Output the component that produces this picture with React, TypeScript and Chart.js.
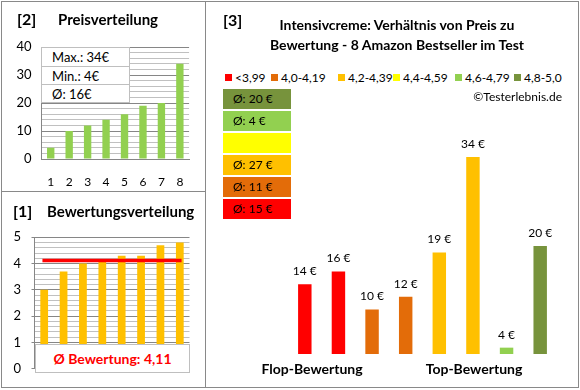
import React, { useEffect, useRef } from "react";
import { Chart, registerables } from "chart.js";

Chart.register(...registerables);

const FONT = "Lato, 'Noto Sans', sans-serif";

// ---------- data ----------
const rankLabels = ["1", "2", "3", "4", "5", "6", "7", "8"];
const sortedPrices = [4, 10, 12, 14, 16, 19, 20, 34];
const ratings = [3.0, 3.7, 4.0, 4.1, 4.3, 4.3, 4.7, 4.8];
const productPrices = [14, 16, 10, 12, 19, 34, 4, 20];
const bandLabels = ["<3,99", "4,0-4,19", "4,2-4,39", "4,4-4,59", "4,6-4,79", "4,8-5,0"];
const bandColors = ["#FF0000", "#E36C09", "#FFC000", "#FFFF00", "#92D050", "#77933C"];
const bandLowerBounds = [4.0, 4.2, 4.4, 4.6, 4.8];
const groupLabels = ["Flop-Bewertung", "Top-Bewertung"];
const titleLines = ["Intensivcreme: Verhältnis von Preis zu", "Bewertung - 8 Amazon Bestseller im Test"];

// ---------- derived ----------
const bandOf = (r: number) => {
  let i = 0;
  while (i < bandLowerBounds.length && r >= bandLowerBounds[i] - 1e-9) i++;
  return i;
};
const productBands = ratings.map(bandOf);
const bandAvg = bandColors.map((_, b) => {
  const vals = productPrices.filter((_, i) => productBands[i] === b);
  return vals.length ? Math.round(vals.reduce((a, c) => a + c, 0) / vals.length) : null;
});
const priceMax = Math.max(...sortedPrices);
const priceMin = Math.min(...sortedPrices);
const priceAvg = Math.round(sortedPrices.reduce((a, c) => a + c, 0) / sortedPrices.length);
const ratingAvg = ratings.reduce((a, c) => a + c, 0) / ratings.length;
const ratingAvgText = ratingAvg.toFixed(2).replace(".", ",");

// ---------- layout constants ----------
const legendX = [225, 271, 338, 393, 455, 514];
const GRID_MAJOR = "#868686";
const GRID_MINOR = "#C0C0C0";

const T: React.FC<{ x: number; y: number; size?: number; bold?: boolean; color?: string; align?: "left" | "center" | "right"; children: React.ReactNode }> = ({ x, y, size = 12, bold, color = "#000", align = "left", children }) => {
  const tx = align === "center" ? "-50%" : align === "right" ? "-100%" : "0";
  return (
    <div
      style={{
        position: "absolute",
        left: x,
        top: y,
        transform: `translate(${tx}, -50%)`,
        fontFamily: FONT,
        fontSize: size,
        fontWeight: bold ? 700 : 400,
        color,
        whiteSpace: "nowrap",
        lineHeight: 1.2,
      }}
    >
      {children}
    </div>
  );
};

const PriceChart: React.FC = () => {
  const ref = useRef<HTMLCanvasElement>(null);
  useEffect(() => {
    const chart = new Chart(ref.current!, {
      type: "bar",
      data: {
        labels: rankLabels,
        datasets: [
          { data: sortedPrices, backgroundColor: "#92D050", barPercentage: 0.4, categoryPercentage: 1 },
        ],
      },
      options: {
        responsive: false,
        animation: false,
        layout: { padding: { left: 0, right: 10.5, top: 47, bottom: 0 } },
        plugins: { legend: { display: false }, tooltip: { enabled: false } },
        scales: {
          x: {
            afterFit: (s: any) => { s.height = 31; },
            grid: { display: false, drawTicks: false },
            border: { display: true, color: GRID_MAJOR },
            ticks: { padding: 16, color: "#000", font: { family: FONT, size: 12 } },
          },
          y: {
            min: 0,
            max: 40,
            afterFit: (s: any) => { s.width = 41.5; },
            grid: {
              drawTicks: false,
              color: (ctx: any) => (ctx.tick && ctx.tick.value % 10 === 0 ? GRID_MAJOR : GRID_MINOR),
            },
            border: { color: GRID_MAJOR },
            ticks: {
              stepSize: 2,
              autoSkip: false,
              padding: 10,
              color: "#000",
              font: { family: FONT, size: 13 },
              callback: (v: any) => (Number(v) % 10 === 0 ? String(v) : ""),
            },
          },
        },
      },
    } as any);
    return () => chart.destroy();
  }, []);
  return <canvas ref={ref} width={200} height={190} style={{ position: "absolute", left: 0, top: 0 }} />;
};

const RatingChart: React.FC = () => {
  const ref = useRef<HTMLCanvasElement>(null);
  useEffect(() => {
    const isMajor = (v: number) => Math.abs(v - Math.round(v)) < 1e-6;
    const chart = new Chart(ref.current!, {
      type: "bar",
      data: {
        labels: rankLabels,
        datasets: [
          {
            type: "line",
            data: ratings.map(() => ratingAvg),
            borderColor: "#FF0000",
            borderWidth: 3.5,
            borderCapStyle: "square",
            pointRadius: 0,
            order: 0,
          },
          { type: "bar", data: ratings, backgroundColor: "#FFC000", barPercentage: 0.4, categoryPercentage: 1, order: 1 },
        ],
      },
      options: {
        responsive: false,
        animation: false,
        layout: { padding: { left: 0, right: 10.5, top: 46.3, bottom: 0 } },
        plugins: { legend: { display: false }, tooltip: { enabled: false } },
        scales: {
          x: {
            afterFit: (s: any) => { s.height = 14.3; },
            grid: { display: false, drawTicks: false },
            border: { display: false },
            ticks: { display: false },
          },
          y: {
            min: 0,
            max: 5,
            afterFit: (s: any) => { s.width = 34.5; },
            grid: {
              drawTicks: true,
              tickLength: 3,
              color: (ctx: any) => (ctx.tick && isMajor(ctx.tick.value) ? GRID_MAJOR : GRID_MINOR),
              tickColor: (ctx: any) => (ctx.tick && isMajor(ctx.tick.value) ? GRID_MAJOR : "rgba(0,0,0,0)"),
            },
            border: { color: GRID_MAJOR },
            ticks: {
              stepSize: 0.2,
              autoSkip: false,
              padding: 10.5,
              color: "#000",
              font: { family: FONT, size: 13 },
              callback: (v: any) => (isMajor(Number(v)) ? String(Math.round(Number(v))) : ""),
            },
          },
        },
      },
    } as any);
    return () => chart.destroy();
  }, []);
  return <canvas ref={ref} width={200} height={196} style={{ position: "absolute", left: 0, top: 191 }} />;
};

const ProductChart: React.FC = () => {
  const ref = useRef<HTMLCanvasElement>(null);
  useEffect(() => {
    const labelPlugin = {
      id: "valueLabels",
      afterDatasetsDraw(chart: any) {
        const ctx = chart.ctx;
        const meta = chart.getDatasetMeta(0);
        ctx.save();
        ctx.font = `12px ${FONT}`;
        ctx.fillStyle = "#000";
        ctx.textAlign = "center";
        ctx.textBaseline = "middle";
        meta.data.forEach((bar: any, i: number) => {
          ctx.fillText(`${productPrices[i]} €`, bar.x, bar.y - 13);
        });
        ctx.restore();
      },
    };
    const chart = new Chart(ref.current!, {
      type: "bar",
      data: {
        labels: rankLabels,
        datasets: [
          {
            data: productPrices,
            backgroundColor: productBands.map((b) => bandColors[b]),
            barPercentage: 0.4,
            categoryPercentage: 1,
          },
        ],
      },
      options: {
        responsive: false,
        animation: false,
        layout: { padding: { left: 82, right: 20, top: 19, bottom: 32 } },
        plugins: { legend: { display: false }, tooltip: { enabled: false } },
        scales: {
          x: { display: false },
          y: { display: false, min: 3, max: 40 },
        },
      },
      plugins: [labelPlugin],
    } as any);
    return () => chart.destroy();
  }, []);
  return <canvas ref={ref} width={371} height={286} style={{ position: "absolute", left: 206, top: 100 }} />;
};

export default function App() {
  const boxOrder = [5, 4, 3, 2, 1, 0];
  return (
    <div style={{ position: "fixed", left: 0, top: 0, width: 580, height: 390, background: "#fff", overflow: "hidden" }}>
      {/* frames */}
      <div style={{ position: "absolute", left: 1, top: 1, width: 578, height: 387, boxSizing: "border-box", border: "1px solid #898989" }} />
      <div style={{ position: "absolute", left: 205, top: 1, width: 1, height: 387, background: "#898989" }} />
      <div style={{ position: "absolute", left: 1, top: 191, width: 205, height: 1, background: "#898989" }} />

      {/* panel 2: prices */}
      <PriceChart />
      <T x={17} y={19} size={16} bold>[2]</T>
      <T x={58} y={19} size={15} bold>Preisverteilung</T>
      <div
        style={{
          position: "absolute",
          left: 41,
          top: 47,
          width: 89,
          height: 56,
          boxSizing: "border-box",
          border: "1px solid #BFBFBF",
          background: "#fff",
          fontFamily: FONT,
          fontSize: 13,
        }}
      >
        {[`Max.: ${priceMax}€`, `Min.: ${priceMin}€`, `Ø: ${priceAvg}€`].map((t, i) => (
          <div
            key={i}
            style={{
              height: 18,
              lineHeight: "18px",
              paddingLeft: 10,
              borderTop: i > 0 ? "1px solid #BFBFBF" : "none",
              boxSizing: "border-box",
            }}
          >
            {t}
          </div>
        ))}
      </div>

      {/* panel 1: ratings */}
      <RatingChart />
      <T x={13} y={211} size={16} bold>[1]</T>
      <T x={47} y={211} size={15} bold>Bewertungsverteilung</T>
      <div
        style={{
          position: "absolute",
          left: 35,
          top: 344,
          width: 155,
          height: 29,
          boxSizing: "border-box",
          border: "1px solid #BFBFBF",
          background: "#fff",
          display: "flex",
          alignItems: "center",
          justifyContent: "center",
          fontFamily: FONT,
          fontWeight: 700,
          fontSize: 14,
          color: "#FF0000",
        }}
      >
        Ø Bewertung: {ratingAvgText}
      </div>

      {/* panel 3 */}
      <ProductChart />
      <T x={223} y={20} size={16} bold>[3]</T>
      <T x={397} y={25} size={14} bold align="center">{titleLines[0]}</T>
      <T x={397} y={45} size={14} bold align="center">{titleLines[1]}</T>
      {bandLabels.map((l, i) => (
        <React.Fragment key={l}>
          <div style={{ position: "absolute", left: legendX[i], top: 74, width: 7, height: 7, background: bandColors[i] }} />
          <T x={legendX[i] + 10} y={77.5} size={12}>{l}</T>
        </React.Fragment>
      ))}
      <T x={562} y={97} size={12} align="right">©Testerlebnis.de</T>
      {boxOrder.map((b, k) => (
        <div
          key={b}
          style={{
            position: "absolute",
            left: 223,
            top: 89 + k * 21.9,
            width: 68,
            height: 20,
            background: bandColors[b],
            fontFamily: FONT,
            fontSize: 12,
            lineHeight: "20px",
            paddingLeft: 10,
            boxSizing: "border-box",
            color: "#000",
          }}
        >
          {bandAvg[b] !== null ? `Ø: ${bandAvg[b]} €` : ""}
        </div>
      ))}
      <T x={312} y={369} size={14} bold align="center">{groupLabels[0]}</T>
      <T x={474} y={369} size={14} bold align="center">{groupLabels[1]}</T>
    </div>
  );
}
